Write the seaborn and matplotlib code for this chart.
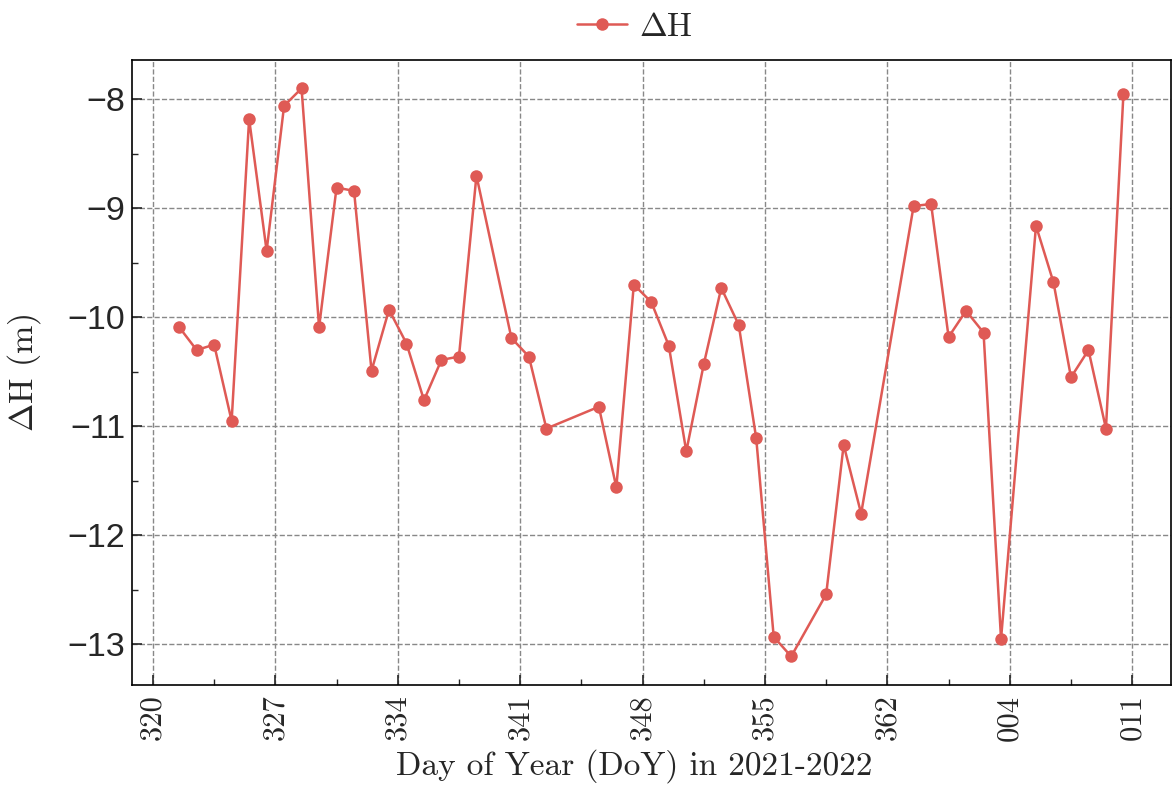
import matplotlib
matplotlib.use("Agg")
import matplotlib.pyplot as plt
import seaborn as sns
import pandas as pd
import numpy as np
from matplotlib.ticker import AutoMinorLocator

# day of year for each epoch (2021 -> 2022)
doy = [321, 322, 323, 324, 325, 326, 327, 328, 329, 330, 331, 332, 333, 334,
       335, 336, 337, 338, 340, 341, 342, 345, 346, 347, 348, 349, 350, 351,
       352, 353, 354, 355, 356, 358, 359, 360, 363, 364, 365, 1, 2, 3,
       5, 6, 7, 8, 9, 10]
dH = [-10.09, -10.30, -10.25, -10.95, -8.18, -9.39, -8.06, -7.90, -10.09, -8.81,
      -8.84, -10.49, -9.93, -10.24, -10.76, -10.39, -10.36, -8.70, -10.19, -10.36,
      -11.02, -10.82, -11.56, -9.70, -9.86, -10.26, -11.23, -10.43, -9.73, -10.07,
      -11.11, -12.93, -13.11, -12.54, -11.17, -11.80, -8.98, -8.96, -10.18, -9.94,
      -10.14, -12.95, -9.16, -9.68, -10.55, -10.30, -11.02, -7.95]
xtick_labels = ["320", "327", "334", "341", "348", "355", "362", "004", "011"]


def day_index(d):
    # continuous day count starting at DoY 320 of 2021
    return d - 320 if d >= 300 else d + 365 - 320


df = pd.DataFrame({"t": [day_index(d) + 0.5 for d in doy], "dH": dH})

sns.set_style("ticks")
plt.rcParams["mathtext.fontset"] = "cm"
plt.rcParams["axes.unicode_minus"] = True

fig, ax = plt.subplots(figsize=(11.73, 7.89), dpi=100)
fig.subplots_adjust(left=0.1125, right=0.998, top=0.924, bottom=0.132)

sns.lineplot(data=df, x="t", y="dH", ax=ax, color="#DF5A55", linewidth=1.8,
             marker="o", markersize=9, markeredgewidth=0, label=r"$\Delta$H")

ax.set_xticks([day_index(int(s)) for s in xtick_labels])
ax.set_xticklabels(xtick_labels, rotation=90)
ax.xaxis.set_minor_locator(AutoMinorLocator(2))
ax.yaxis.set_minor_locator(AutoMinorLocator(2))
ax.margins(x=0.05, y=0.05)

ax.grid(True, which="major", linestyle="--", color="#888888", linewidth=1.0)
ax.set_axisbelow(True)

ax.tick_params(axis="both", which="both", direction="in", top=False, right=False)
ax.tick_params(axis="both", which="major", length=7, width=1.2)
ax.tick_params(axis="both", which="minor", length=4, width=1.0)
ax.tick_params(axis="x", labelsize=22, labelfontfamily="cmr10", pad=7)
ax.tick_params(axis="y", labelsize=24.5, labelfontfamily="Liberation Sans", pad=5)
for sp in ax.spines.values():
    sp.set_linewidth(1.2)
    sp.set_color("black")

ax.set_xlabel("Day of Year (DoY) in 2021-2022", fontsize=24, family="cmr10",
              labelpad=6)
ax.xaxis.label.set_x(0.484)
ax.set_ylabel(r"$\Delta$H (m)", fontsize=24.5, family="cmr10")
ax.yaxis.set_label_coords(-0.086, 0.5)

leg = ax.legend(loc="lower center", bbox_to_anchor=(0.484, 1.0), frameon=False,
                prop={"family": "cmr10", "size": 24}, handlelength=1.5,
                handletextpad=0.35, borderaxespad=0.15)

fig.savefig("out.png", dpi=100)
